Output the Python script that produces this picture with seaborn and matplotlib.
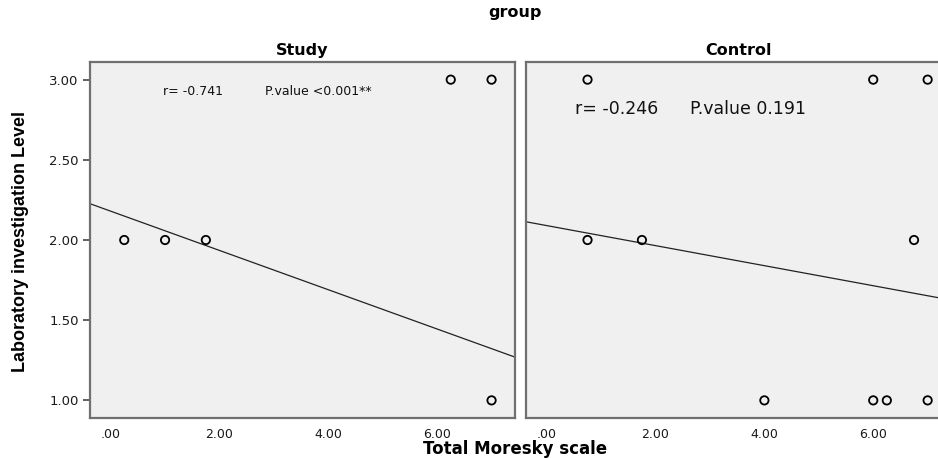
import matplotlib
matplotlib.use("Agg")
import matplotlib.pyplot as plt
import seaborn as sns
import pandas as pd

# points (Total Moresky scale, Laboratory investigation Level)
study_x = [0.25, 1.0, 1.75, 6.25, 7.0, 7.0]
study_y = [2, 2, 2, 3, 3, 1]
control_x = [0.75, 6.0, 7.0, 0.75, 1.75, 6.75, 4.0, 6.0, 6.25, 7.0]
control_y = [3, 3, 3, 2, 2, 2, 1, 1, 1, 1]

# fitted lines (intercept, slope) and the stats text
study_fit = (2.18, -0.1225)
control_fit = (2.09, -0.0625)
study_r, study_p = "r= -0.741", "P.value <0.001**"
control_r, control_p = "r= -0.246", "P.value 0.191"

x_ticks = [0, 2, 4, 6]
x_ticklabels = [".00", "2.00", "4.00", "6.00"]
y_ticks = [1.0, 1.5, 2.0, 2.5, 3.0]
y_ticklabels = ["1.00", "1.50", "2.00", "2.50", "3.00"]

df = pd.concat([
    pd.DataFrame({"moresky": study_x, "level": study_y, "group": "Study"}),
    pd.DataFrame({"moresky": control_x, "level": control_y, "group": "Control"}),
])

sns.set_style("white")
plt.rcParams["font.family"] = ["DejaVu Sans"]
plt.rcParams["text.color"] = "black"

fig = plt.figure(figsize=(9.38, 4.58), dpi=100)
fig.patch.set_facecolor("white")
ax1 = fig.add_axes([0.0959, 0.0873, 0.4531, 0.7773])
ax2 = fig.add_axes([0.5608, 0.0873, 0.4531, 0.7773])

# (axes, name, fit, r text, p text, r x, p x, y, size) positions in axes fraction
panels = [
    (ax1, "Study", study_fit, study_r, study_p, 0.172, 0.412, 0.916, 9),
    (ax2, "Control", control_fit, control_r, control_p, 0.115, 0.386, 0.868, 12.5),
]

for ax, name, fit, rtxt, ptxt, rx, px, ty, size in panels:
    sub = df[df["group"] == name]
    ax.set_facecolor("#f0f0f0")
    sns.scatterplot(data=sub, x="moresky", y="level", ax=ax, marker="o",
                    s=36, facecolor="none", edgecolor="black", linewidth=1.3,
                    legend=False, clip_on=False, zorder=3)
    ax.axline((0, fit[0]), slope=fit[1], color="#222222", lw=0.9, zorder=2)
    ax.set_xlim(-0.38, 7.43)
    ax.set_ylim(0.89, 3.11)
    ax.set_xticks(x_ticks)
    ax.set_xticklabels(x_ticklabels)
    ax.set_yticks(y_ticks)
    ax.set_xlabel("")
    ax.set_ylabel("")
    ax.tick_params(axis="both", direction="out", length=5, width=1.2,
                   color="#444444", labelsize=9.5, labelcolor="#1a1a1a", pad=3)
    ax.tick_params(axis="x", labelsize=9, pad=2)
    for sp in ax.spines.values():
        sp.set_color("#707070")
        sp.set_linewidth(1.6)
    ax.set_title(name, fontsize=11.5, fontweight="bold", pad=5, color="black")
    ax.text(rx, ty, rtxt, transform=ax.transAxes, fontsize=size,
            color="#111111", va="center")
    ax.text(px, ty, ptxt, transform=ax.transAxes, fontsize=size,
            color="#111111", va="center")

ax1.tick_params(axis="y", left=True)
ax1.set_yticklabels(y_ticklabels)
ax2.tick_params(axis="y", left=False, labelleft=False)

fig.text(0.549, 0.972, "group", ha="center", va="center",
         fontsize=11.5, fontweight="bold")
fig.text(0.549, 0.019, "Total Moresky scale", ha="center", va="center",
         fontsize=12, fontweight="bold")
fig.text(0.022, 0.472, "Laboratory investigation Level", rotation=90,
         ha="center", va="center", fontsize=13, fontweight="bold",
         family=["Liberation Sans Narrow", "Liberation Sans", "DejaVu Sans"])

fig.savefig("out.png", dpi=100)
